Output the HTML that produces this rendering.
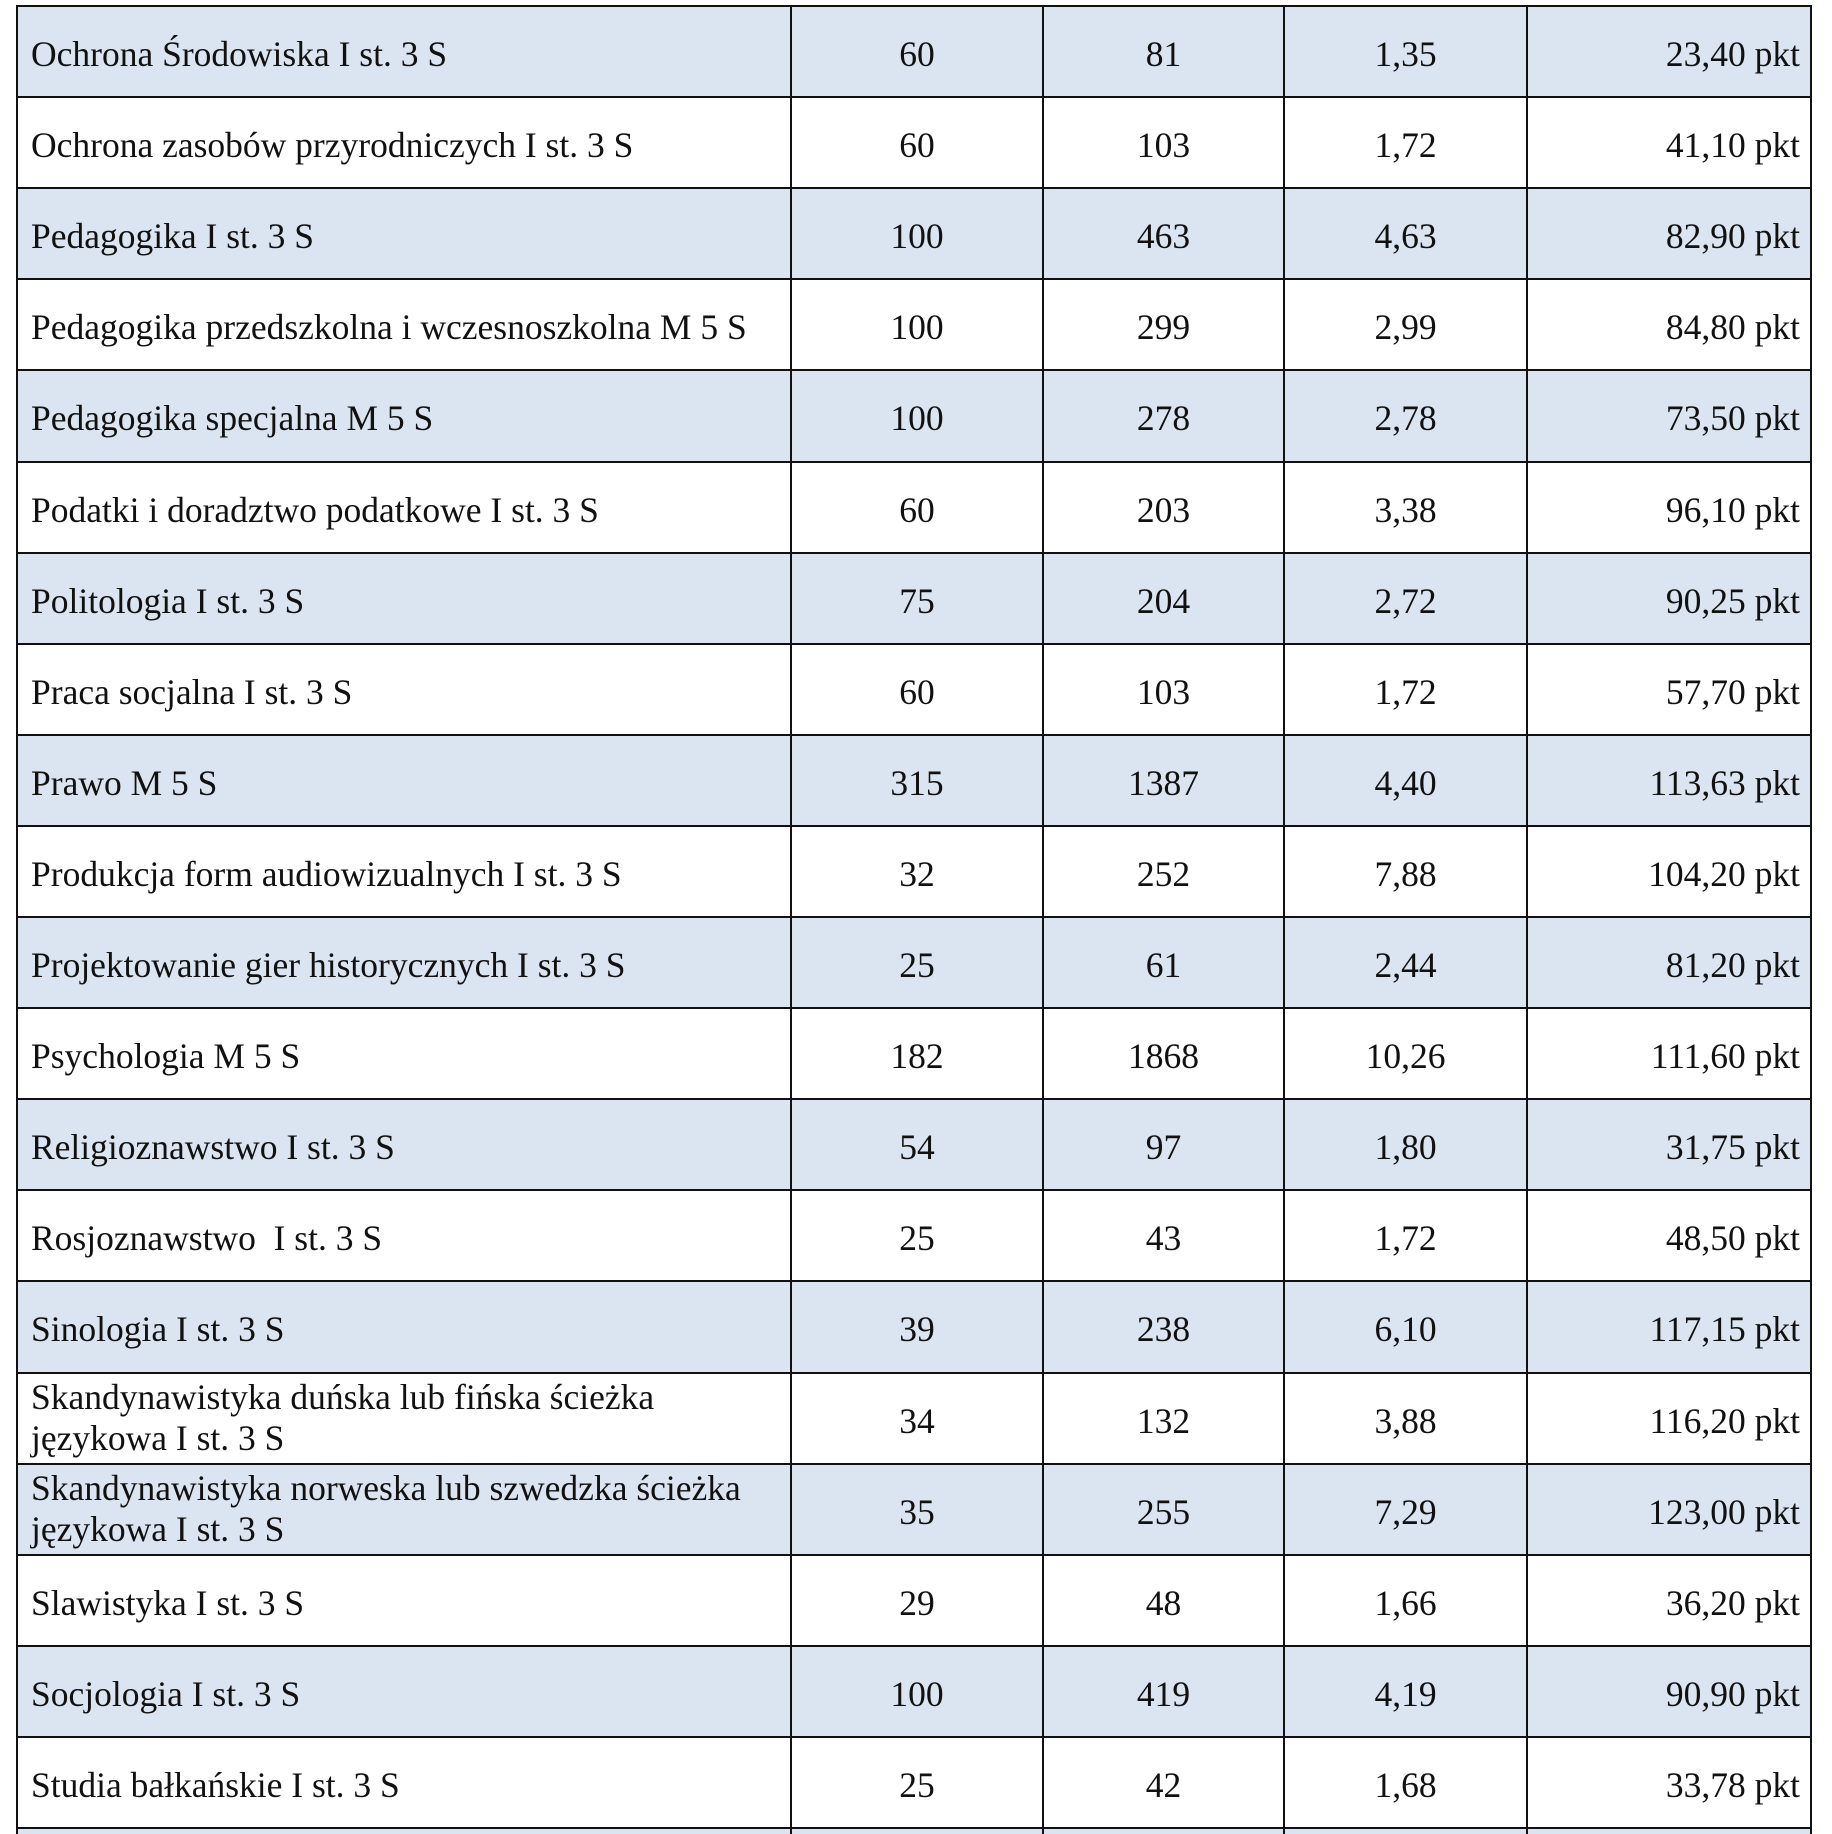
<!DOCTYPE html>
<html><head><meta charset="utf-8"><style>
html,body{margin:0;padding:0;background:#fff;width:1832px;height:1834px;overflow:hidden;position:relative}
.r{position:absolute;left:17px;width:1794px;height:92px;border-top:2px solid #111;box-sizing:border-box}
.b{background:#dbe5f1}
.r div{position:absolute;top:3px;height:89px;line-height:89px;font-family:"Liberation Serif",serif;font-size:35.5px;color:#111;white-space:nowrap}
.r .n{left:14px}
.r .n2{left:14px;line-height:41px;top:3px}
.r .a{left:774px;width:252px;text-align:center}
.r .c{left:1026px;width:241px;text-align:center}
.r .d{left:1267px;width:243px;text-align:center}
.r .e{right:11px;text-align:right}
.v{position:absolute;top:5px;width:2px;height:1834px;background:#111}
</style></head><body>
<div class="r b" style="top:5px"><div class="n">Ochrona Środowiska I st. 3 S</div><div class="a">60</div><div class="c">81</div><div class="d">1,35</div><div class="e">23,40 pkt</div></div>
<div class="r" style="top:96px"><div class="n">Ochrona zasobów przyrodniczych I st. 3 S</div><div class="a">60</div><div class="c">103</div><div class="d">1,72</div><div class="e">41,10 pkt</div></div>
<div class="r b" style="top:187px"><div class="n">Pedagogika I st. 3 S</div><div class="a">100</div><div class="c">463</div><div class="d">4,63</div><div class="e">82,90 pkt</div></div>
<div class="r" style="top:278px"><div class="n">Pedagogika przedszkolna i wczesnoszkolna M 5 S</div><div class="a">100</div><div class="c">299</div><div class="d">2,99</div><div class="e">84,80 pkt</div></div>
<div class="r b" style="top:369px"><div class="n">Pedagogika specjalna M 5 S</div><div class="a">100</div><div class="c">278</div><div class="d">2,78</div><div class="e">73,50 pkt</div></div>
<div class="r" style="top:461px"><div class="n">Podatki i doradztwo podatkowe I st. 3 S</div><div class="a">60</div><div class="c">203</div><div class="d">3,38</div><div class="e">96,10 pkt</div></div>
<div class="r b" style="top:552px"><div class="n">Politologia I st. 3 S</div><div class="a">75</div><div class="c">204</div><div class="d">2,72</div><div class="e">90,25 pkt</div></div>
<div class="r" style="top:643px"><div class="n">Praca socjalna I st. 3 S</div><div class="a">60</div><div class="c">103</div><div class="d">1,72</div><div class="e">57,70 pkt</div></div>
<div class="r b" style="top:734px"><div class="n">Prawo M 5 S</div><div class="a">315</div><div class="c">1387</div><div class="d">4,40</div><div class="e">113,63 pkt</div></div>
<div class="r" style="top:825px"><div class="n">Produkcja form audiowizualnych I st. 3 S</div><div class="a">32</div><div class="c">252</div><div class="d">7,88</div><div class="e">104,20 pkt</div></div>
<div class="r b" style="top:916px"><div class="n">Projektowanie gier historycznych I st. 3 S</div><div class="a">25</div><div class="c">61</div><div class="d">2,44</div><div class="e">81,20 pkt</div></div>
<div class="r" style="top:1007px"><div class="n">Psychologia M 5 S</div><div class="a">182</div><div class="c">1868</div><div class="d">10,26</div><div class="e">111,60 pkt</div></div>
<div class="r b" style="top:1098px"><div class="n">Religioznawstwo I st. 3 S</div><div class="a">54</div><div class="c">97</div><div class="d">1,80</div><div class="e">31,75 pkt</div></div>
<div class="r" style="top:1189px"><div class="n">Rosjoznawstwo&nbsp; I st. 3 S</div><div class="a">25</div><div class="c">43</div><div class="d">1,72</div><div class="e">48,50 pkt</div></div>
<div class="r b" style="top:1280px"><div class="n">Sinologia I st. 3 S</div><div class="a">39</div><div class="c">238</div><div class="d">6,10</div><div class="e">117,15 pkt</div></div>
<div class="r" style="top:1372px"><div class="n2">Skandynawistyka duńska lub fińska ścieżka<br>językowa I st. 3 S</div><div class="a">34</div><div class="c">132</div><div class="d">3,88</div><div class="e">116,20 pkt</div></div>
<div class="r b" style="top:1463px"><div class="n2">Skandynawistyka norweska lub szwedzka ścieżka<br>językowa I st. 3 S</div><div class="a">35</div><div class="c">255</div><div class="d">7,29</div><div class="e">123,00 pkt</div></div>
<div class="r" style="top:1554px"><div class="n">Slawistyka I st. 3 S</div><div class="a">29</div><div class="c">48</div><div class="d">1,66</div><div class="e">36,20 pkt</div></div>
<div class="r b" style="top:1645px"><div class="n">Socjologia I st. 3 S</div><div class="a">100</div><div class="c">419</div><div class="d">4,19</div><div class="e">90,90 pkt</div></div>
<div class="r" style="top:1736px"><div class="n">Studia bałkańskie I st. 3 S</div><div class="a">25</div><div class="c">42</div><div class="d">1,68</div><div class="e">33,78 pkt</div></div>
<div class="r b" style="top:1827px"></div>
<div class="v" style="left:16px"></div>
<div class="v" style="left:790px"></div>
<div class="v" style="left:1042px"></div>
<div class="v" style="left:1283px"></div>
<div class="v" style="left:1526px"></div>
<div class="v" style="left:1810px"></div>
</body></html>
